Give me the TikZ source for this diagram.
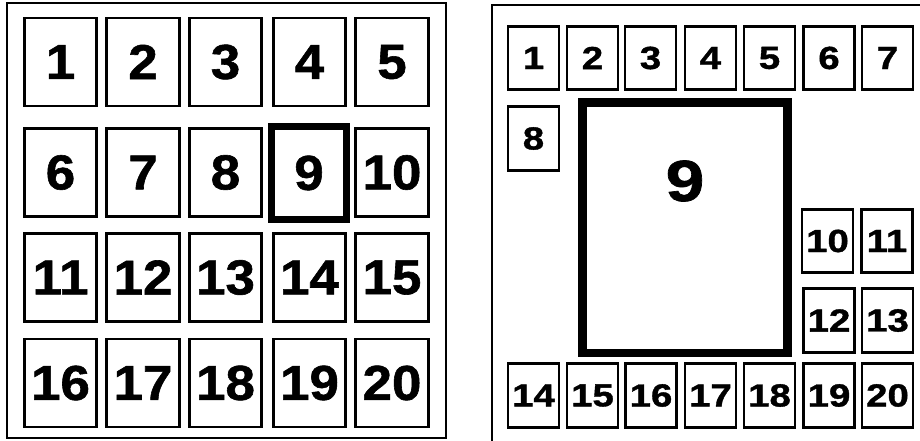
\documentclass[tikz,border=0pt]{standalone}
\usepackage{fontspec}
\setmainfont{Liberation Sans}
\newfontfamily\cellfont[FakeBold=1.2, FakeStretch=1.08]{Liberation Sans}
\newfontfamily\smallcellfont[FakeBold=1.2, FakeStretch=1.2]{Liberation Sans}
\definecolor{frameline}{HTML}{000000}
\tikzset{
  cell/.style={draw=frameline, line width=2.7pt, minimum width=72.5pt, minimum height=88pt,
               font=\cellfont\bfseries\fontsize{49}{49}\selectfont, inner sep=0pt, anchor=center},
  thickcell/.style={cell, line width=7.5pt, minimum width=75pt, minimum height=93pt},
  smallcell/.style={cell, minimum width=51pt, minimum height=63.5pt,
               font=\smallcellfont\bfseries\fontsize{32}{32}\selectfont},
  bigcell/.style={draw=frameline, line width=8.5pt, minimum width=205pt, minimum height=250pt,
               inner sep=0pt},
  bignum/.style={font=\smallcellfont\bfseries\fontsize{58}{58}\selectfont, inner sep=0pt},
}
\begin{document}
\begin{tikzpicture}[x=1pt, y=-1pt]
    \useasboundingbox (0,0) rectangle (920,441);
    % left: the grid
    \draw[frameline, line width=2.7pt] (7,3) rectangle (446,438);
    \node[cell] (a1) at (60.5, 62) {1};
    \node[cell] (a2) at (143, 62) {2};
    \node[cell] (a3) at (225.5, 62) {3};
    \node[cell] (a4) at (309.5, 62) {4};
    \node[cell] (a5) at (392, 62) {5};
    \node[cell] (a6) at (60.5, 172.5) {6};
    \node[cell] (a7) at (143, 172.5) {7};
    \node[cell] (a8) at (225.5, 172.5) {8};
    \node[thickcell] (a9) at (309, 173) {9};
    \node[cell] (a10) at (392, 172.5) {10};
    \node[cell] (a11) at (60.5, 277.5) {11};
    \node[cell] (a12) at (143, 277.5) {12};
    \node[cell] (a13) at (225.5, 277.5) {13};
    \node[cell] (a14) at (309.5, 277.5) {14};
    \node[cell] (a15) at (392, 277.5) {15};
    \node[cell] (a16) at (60.5, 383) {16};
    \node[cell] (a17) at (143, 383) {17};
    \node[cell] (a18) at (225.5, 383) {18};
    \node[cell] (a19) at (309.5, 383) {19};
    \node[cell] (a20) at (392, 383) {20};
    % right: 9 enlarged
    \draw[frameline, line width=2.7pt] (492,441) -- (492,5) -- (921,5);
    \node[smallcell] (b1) at (533.5, 58) {1};
    \node[smallcell] (b2) at (592.5, 58) {2};
    \node[smallcell] (b3) at (650.5, 58) {3};
    \node[smallcell] (b4) at (710.5, 58) {4};
    \node[smallcell] (b5) at (769.5, 58) {5};
    \node[smallcell] (b6) at (829, 58) {6};
    \node[smallcell] (b7) at (887.5, 58) {7};
    \node[smallcell] (b8) at (533.5, 138.5) {8};
    \node[bigcell] (b9) at (685, 227.75) {};
    \node[bignum] (b9text) at (685, 181) {9};
    \node[smallcell] (b10) at (827.5, 241) {10};
    \node[smallcell] (b11) at (887, 241) {11};
    \node[smallcell] (b12) at (829, 320.5) {12};
    \node[smallcell] (b13) at (887.5, 320.5) {13};
    \node[smallcell] (b14) at (533.5, 395.5) {14};
    \node[smallcell] (b15) at (592.5, 395.5) {15};
    \node[smallcell] (b16) at (651, 395.5) {16};
    \node[smallcell] (b17) at (710.5, 395.5) {17};
    \node[smallcell] (b18) at (769.5, 395.5) {18};
    \node[smallcell] (b19) at (829, 395.5) {19};
    \node[smallcell] (b20) at (887.5, 395.5) {20};
  \end{tikzpicture}
\end{document}
